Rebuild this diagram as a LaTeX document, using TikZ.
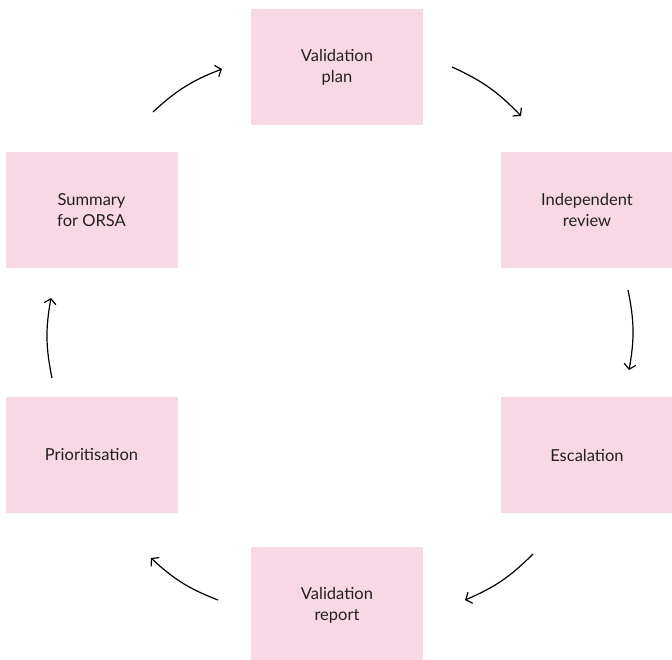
\documentclass[tikz,border=0pt]{standalone}
\usepackage{fontspec}
\setmainfont{Lato}
\usetikzlibrary{arrows.meta}

\definecolor{stagepink}{RGB}{249,216,230}
\definecolor{stagetext}{RGB}{35,31,32}

\tikzset{
  stage/.style={fill=stagepink, minimum width=172pt, minimum height=116pt,
    inner sep=0pt, align=center, text=stagetext,
    font=\fontsize{16.5}{21}\selectfont},
  cyclearrow/.style={-{Straight Barb[length=5pt,width=12pt]}, line width=1.2pt, bend left=11}
}

\begin{document}
\begin{tikzpicture}[x=1pt, y=-1pt]
    \useasboundingbox (0,0) rectangle (672,660);

    \node[stage] (plan) at (337,67) {Validation\\plan};
    \node[stage] (review) at (587,210) {Independent\\review};
    \node[stage] (escalation) at (587,455) {Escalation};
    \node[stage] (report) at (337,605) {Validation\\report};
    \node[stage] (prior) at (91.5,455) {Prioritisation};
    \node[stage] (summary) at (91.5,210) {Summary\\for ORSA};

    % free ends of the arrows between the stages
    \coordinate (a1s) at (153,112);  \coordinate (a1e) at (222,69);
    \coordinate (a2s) at (452,67);   \coordinate (a2e) at (521,116);
    \coordinate (a3s) at (628,290);  \coordinate (a3e) at (629,370);
    \coordinate (a4s) at (533,554);  \coordinate (a4e) at (465,600);
    \coordinate (a5s) at (218,600);  \coordinate (a5e) at (151,558);
    \coordinate (a6s) at (52,378);   \coordinate (a6e) at (51,298);

    \draw[cyclearrow] (a1s) to (a1e);
    \draw[cyclearrow] (a2s) to (a2e);
    \draw[cyclearrow] (a3s) to (a3e);
    \draw[cyclearrow] (a4s) to (a4e);
    \draw[cyclearrow] (a5s) to (a5e);
    \draw[cyclearrow] (a6s) to (a6e);

\end{tikzpicture}
\end{document}
